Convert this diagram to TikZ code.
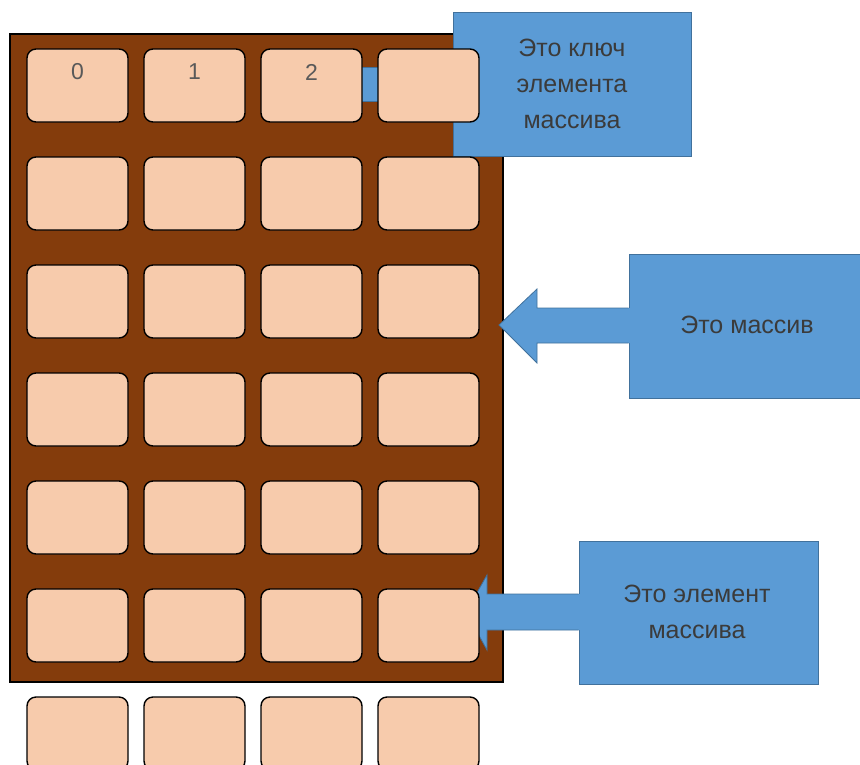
\documentclass[tikz,border=0pt]{standalone}
\usepackage{fontspec}
\setmainfont{Liberation Sans}
\usepackage{tikz}
\definecolor{arrbrown}{HTML}{843C0C}
\definecolor{cellpeach}{HTML}{F7CBAC}
\definecolor{callblue}{HTML}{5B9BD5}
\definecolor{calledge}{HTML}{41719C}
\definecolor{calltext}{HTML}{3B3B3B}
\definecolor{keygray}{HTML}{595959}

\begin{document}
\begin{tikzpicture}[x=1pt,y=-1pt,
    cell/.style={draw=black,line width=1.4pt,fill=cellpeach,rounded corners=9pt,
        minimum width=101pt,minimum height=73pt,inner sep=0pt},
    callbox/.style={draw=calledge,line width=0.8pt,fill=callblue,inner sep=0pt},
    calltxt/.style={text=calltext,align=center,inner sep=0pt,font=\fontsize{25}{36}\selectfont},
    callarrow/.style={fill=callblue},
    calloutline/.style={draw=calledge,line width=0.8pt},
    keylbl/.style={text=keygray,font=\fontsize{23}{23}\selectfont,inner sep=0pt}]
    \useasboundingbox (0,0) rectangle (860,764);
    % the array
    \node[draw=black,line width=2pt,fill=arrbrown,minimum width=493pt,minimum height=648pt,inner sep=0pt] (arr) at (256.5,358) {};
    % callouts
    \node[callbox,minimum width=238pt,minimum height=144pt] (keybox) at (572,84) {};
    \node[callbox,minimum width=231pt,minimum height=144pt] (arrbox) at (744.5,326) {};
    \node[callbox,minimum width=239pt,minimum height=143pt] (elbox) at (698.5,612.5) {};
    \coordinate (keytip) at (350,84);
    \coordinate (arrtip) at (499,325);
    \coordinate (eltip) at (466,612);
    % key arrow
    \fill[callarrow] (keybox.center |- 0,67) -- (keytip |- 0,67) -- (keytip |- 0,101) -- (keybox.center |- 0,101) -- cycle;
    \draw[calloutline] (keybox.west |- 0,67) -- (keytip |- 0,67) -- (keytip |- 0,101) -- (keybox.west |- 0,101);
    % array arrow
    \fill[callarrow] (arrbox.center |- 0,308) -- (537,308) -- (537,289) -- (arrtip) -- (537,363) -- (537,343) -- (arrbox.center |- 0,343) -- cycle;
    \draw[calloutline] (arrbox.west |- 0,308) -- (537,308) -- (537,289) -- (arrtip) -- (537,363) -- (537,343) -- (arrbox.west |- 0,343);
    % element arrow
    \fill[callarrow] (elbox.center |- 0,594) -- (487,594) -- (487,575) -- (eltip) -- (487,650) -- (487,630) -- (elbox.center |- 0,630) -- cycle;
    \draw[calloutline] (elbox.west |- 0,594) -- (487,594) -- (487,575) -- (eltip) -- (487,650) -- (487,630) -- (elbox.west |- 0,630);
    % callout texts
    \node[calltxt] (keytext) at (keybox.center) {Это ключ\\элемента\\массива};
    \node[calltxt] (arrtext) at (747,325) {Это массив};
    \node[calltxt] (eltext) at (697,612) {Это элемент\\массива};
    % cells
    \foreach \r/\yy in {1/85.5,2/193.5,3/301.5,4/409.5,5/517.5,6/625.5,7/733.5}
        \foreach \c/\xx in {1/77.5,2/194.5,3/311.5,4/428.5}
            \node[cell] (c\r-\c) at (\xx,\yy) {};
    % keys
    \node[keylbl] (k0) at (c1-1.north |- 0,72) {0};
    \node[keylbl] (k1) at (c1-2.north |- 0,72) {1};
    \node[keylbl] (k2) at (c1-3.north |- 0,72) {2};
\end{tikzpicture}
\end{document}
